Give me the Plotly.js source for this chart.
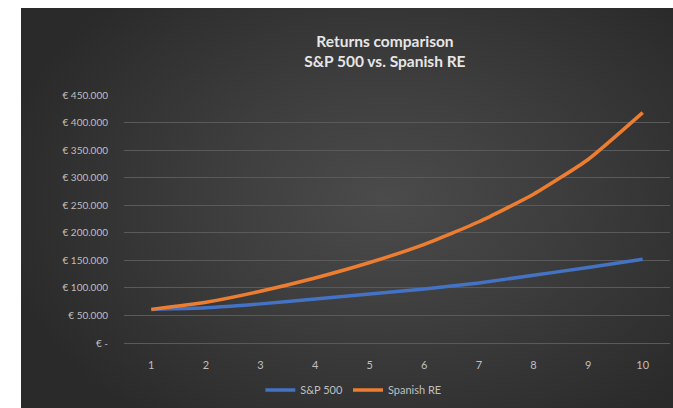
<!DOCTYPE html>
<html>
<head>
<meta charset="utf-8">
<script src="https://cdn.plot.ly/plotly-3.0.1.min.js"></script>
<style>
  html, body { margin: 0; padding: 0; background: #ffffff; }
  #wrap { position: relative; width: 673px; height: 408px; overflow: hidden; }
  #bg { position: absolute; left: 21px; top: 8px; right: 0; bottom: 0;
        background: radial-gradient(ellipse 60% 70% at 56% 48%, #4b4b4b 0%, #3d3d3d 45%, #2a2a2a 100%); }
  #chart { position: absolute; left: 0; top: 0; width: 673px; height: 408px; }
</style>
</head>
<body>
<div id="wrap"><div id="bg"></div><div id="chart"></div></div>
<script>
const years = [1, 2, 3, 4, 5, 6, 7, 8, 9, 10];
const sp500 = [61000, 64000, 71000, 80000, 89000, 98000, 109000, 123000, 137000, 152000];
const spanishRE = [61000, 74000, 94000, 118000, 146000, 179000, 220000, 270000, 333000, 418000];
const yTickVals = [0, 50000, 100000, 150000, 200000, 250000, 300000, 350000, 400000, 450000];
const yTickText = ['€ -', '€ 50.000', '€ 100.000', '€ 150.000', '€ 200.000', '€ 250.000', '€ 300.000', '€ 350.000', '€ 400.000', '€ 450.000'];

const fontFam = 'Lato, "Open Sans", sans-serif';

const traces = [
  { x: years, y: sp500, name: 'S&P 500', type: 'scatter', mode: 'lines',
    line: { color: '#4472C4', width: 3.5, shape: 'spline', smoothing: 0.5 } },
  { x: years, y: spanishRE, name: 'Spanish RE', type: 'scatter', mode: 'lines',
    line: { color: '#ED7D31', width: 3.5, shape: 'spline', smoothing: 0.5 } }
];

const layout = {
  width: 673, height: 408,
  margin: { l: 124, r: 3, t: 95, b: 61 },
  paper_bgcolor: 'rgba(0,0,0,0)',
  plot_bgcolor: 'rgba(0,0,0,0)',
  font: { family: fontFam, color: '#bfbfbf', size: 11 },
  title: {
    text: '<b>Returns comparison</b><br><b>S&P 500 vs. Spanish RE</b>',
    font: { family: fontFam, size: 15.5, color: '#e6e6e6' },
    x: 0.572, xanchor: 'center', y: 0.886, yanchor: 'middle'
  },
  xaxis: {
    range: [0.5, 10.5], tickvals: years, showgrid: false, zeroline: false,
    showline: false, ticks: 'outside', ticklen: 12, tickcolor: 'rgba(0,0,0,0)',
    tickfont: { family: fontFam, size: 11, color: '#bfbfbf' }, fixedrange: true
  },
  yaxis: {
    range: [0, 450000], tickvals: yTickVals, ticktext: yTickText,
    showgrid: true, gridcolor: '#5a5a5a', gridwidth: 1,
    zeroline: true, zerolinecolor: '#5a5a5a', zerolinewidth: 1, showline: false,
    ticks: 'outside', ticklen: 13, tickcolor: 'rgba(0,0,0,0)',
    tickfont: { family: fontFam, size: 10, color: '#bfbfbf' }, fixedrange: true
  },
  showlegend: true,
  legend: {
    orientation: 'h', x: 0.42, xanchor: 'center', y: -0.19, yanchor: 'middle',
    font: { family: fontFam, size: 11, color: '#bfbfbf' },
    bgcolor: 'rgba(0,0,0,0)', itemwidth: 30, tracegroupgap: 0
  }
};

Plotly.newPlot('chart', traces, layout, { displayModeBar: false, staticPlot: true });
</script>
</body>
</html>
